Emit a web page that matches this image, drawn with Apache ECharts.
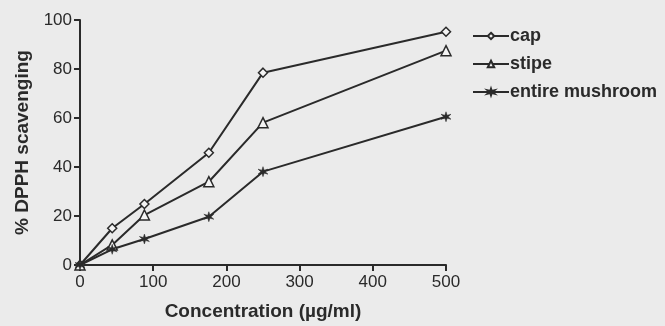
<!DOCTYPE html>
<html><head><meta charset="utf-8">
<script src="https://cdn.jsdelivr.net/npm/echarts@6/dist/echarts.min.js"></script>
<style>html,body{margin:0;padding:0;background:#ebebeb}#c{width:665px;height:326px}</style>
</head><body><div id="c"></div>
<script>
const concentrations = [0, 44, 88, 176, 250, 500];
const capValues = [0, 15.0, 24.9, 45.8, 78.5, 95.2];
const stipeValues = [0, 8.2, 20.4, 34.0, 58.1, 87.5];
const entireValues = [0, 6.4, 10.6, 19.7, 38.1, 60.5];
const seriesNames = ['cap', 'stipe', 'entire mushroom'];
const xTicks = [0, 100, 200, 300, 400, 500];
const yTicks = [0, 20, 40, 60, 80, 100];

const ink = '#2a2a2a';
const starPath = 'path://M10,0 L12,7 L19,5 L14,10 L19,15 L12,13 L10,20 L8,13 L1,15 L6,10 L1,5 L8,7 Z';
function pairs(v){ return concentrations.map((c,i)=>[c, v[i]]); }
const font = 'Liberation Sans, Arial, sans-serif';
const chart = echarts.init(document.getElementById('c'), null, {renderer:'canvas'});
chart.setOption({
  backgroundColor: '#ebebeb',
  animation: false,
  grid: {left: 80, top: 20, right: 219, bottom: 61, containLabel: false, outerBoundsMode: 'none'},
  legend: {
    orient: 'vertical', left: 467, top: 22, itemWidth: 36, itemHeight: 8, itemGap: 10,
    textStyle: {fontFamily: font, fontWeight: 'bold', fontSize: 18, color: ink, padding:[0,0,0,-4]},
    data: seriesNames
  },
  xAxis: {
    type: 'value', min: 0, max: 500, interval: 100,
    name: 'Concentration (\u00b5g/ml)', nameLocation: 'middle', nameGap: 37,
    nameTextStyle: {fontFamily: font, fontWeight: 'bold', fontSize: 19, color: ink},
    axisLine: {lineStyle: {color: ink, width: 2}},
    axisTick: {show: true, length: 6, lineStyle: {color: ink, width: 2}},
    axisLabel: {fontFamily: font, fontSize: 17, color: ink, margin: 9,
      formatter: v => xTicks.includes(v) ? String(v) : ''},
    splitLine: {show: false}
  },
  yAxis: {
    type: 'value', min: 0, max: 100, interval: 20,
    name: '% DPPH scavenging', nameLocation: 'middle', nameGap: 48,
    nameTextStyle: {fontFamily: font, fontWeight: 'bold', fontSize: 19, color: ink},
    axisLine: {show: true, lineStyle: {color: ink, width: 2}},
    axisTick: {show: true, length: 6, lineStyle: {color: ink, width: 2}},
    axisLabel: {fontFamily: font, fontSize: 17, color: ink, margin: 8,
      formatter: v => yTicks.includes(v) ? String(v) : ''},
    splitLine: {show: false}
  },
  series: [
    {name: seriesNames[0], type: 'line', data: pairs(capValues), symbol: 'diamond', symbolSize: 9,
     lineStyle: {color: ink, width: 2}, itemStyle: {color: '#f4f4f4', borderColor: ink, borderWidth: 1.5}},
    {name: seriesNames[1], type: 'line', data: pairs(stipeValues), symbol: 'triangle', symbolSize: 10,
     lineStyle: {color: ink, width: 2}, itemStyle: {color: '#f4f4f4', borderColor: ink, borderWidth: 1.5}},
    {name: seriesNames[2], type: 'line', data: pairs(entireValues), symbol: starPath, symbolSize: 10,
     lineStyle: {color: ink, width: 2}, itemStyle: {color: ink, borderColor: ink, borderWidth: 0.5}}
  ]
});
</script></body></html>
